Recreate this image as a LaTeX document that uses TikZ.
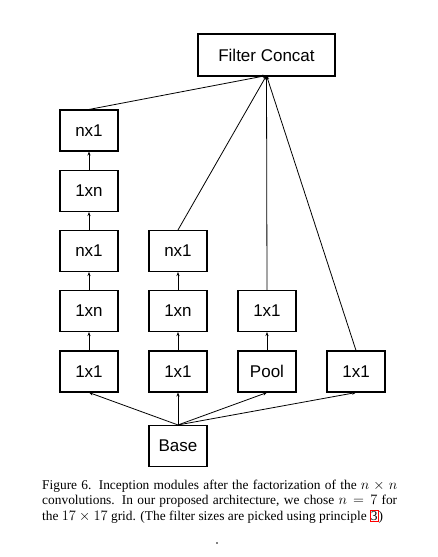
\documentclass[tikz,border=0pt]{standalone}
\usepackage{fontspec}
\setmainfont{Liberation Serif}
\newfontfamily\boxfont{Liberation Sans}
\usetikzlibrary{arrows.meta}
\begin{document}
\begin{tikzpicture}[x=1pt,y=-1pt,
  blk/.style={draw, line width=1.1pt, minimum width=58pt, minimum height=41pt, inner sep=0pt, font=\boxfont\fontsize{17}{19}\selectfont},
  conn/.style={line width=0.8pt, -{Stealth[length=4pt,width=3.2pt]}}]
\useasboundingbox (0,0) rectangle (438,557);
% columns
\node[blk] (a1) at (89,130.5) {nx1};
\node[blk] (a2) at (89,191) {1xn};
\node[blk] (a3) at (89,251) {nx1};
\node[blk] (a4) at (89,311) {1xn};
\node[blk] (a5) at (89,371.5) {1x1};
\node[blk] (b3) at (178,251) {nx1};
\node[blk] (b4) at (178,311) {1xn};
\node[blk] (b5) at (178,371.5) {1x1};
\node[blk] (c4) at (267,311) {1x1};
\node[blk] (c5) at (267,371.5) {Pool};
\node[blk] (d5) at (356,371.5) {1x1};
\node[blk] (base) at (178,446) {Base};
\node[blk, minimum width=137pt, minimum height=42pt] (fc) at (266.5,55) {Filter Concat};
% vertical chains
\draw[conn] (a5) -- (a4);
\draw[conn] (a4) -- (a3);
\draw[conn] (a3) -- (a2);
\draw[conn] (a2) -- (a1);
\draw[conn] (b5) -- (b4);
\draw[conn] (b4) -- (b3);
\draw[conn] (c5) -- (c4);
% from base
\draw[conn] (base.north) -- (a5.south);
\draw[conn] (base.north) -- (b5.south);
\draw[conn] (base.north) -- (c5.south);
\draw[conn] (base.north) -- (d5.south);
% to concat
\coordinate (fcin) at ([yshift=1pt]fc.south);
\draw[conn] (a1.north) -- (fcin);
\draw[conn] (b3.north) -- (fcin);
\draw[conn] (c4.north) -- (fcin);
\draw[conn] (d5.north) -- (fcin);
% caption
\node[anchor=north west, inner sep=0pt, text width=355pt, align=justify,
  font=\fontsize{13.4}{15.5}\selectfont] (cap) at (42,479.5)
  {\hyphenpenalty=10000 Figure 6. Inception modules after the factorization of the $n\times n$\linebreak
   convolutions. In our proposed architecture, we chose $n=7$ for\linebreak
   the $17\times17$ grid. (The filter sizes are picked using principle
   {\setlength\fboxsep{0.3pt}\setlength\fboxrule{0.6pt}\fcolorbox{red}{white}{3}})};
\fill (217,543) circle (0.9pt);
\end{tikzpicture}
\end{document}
